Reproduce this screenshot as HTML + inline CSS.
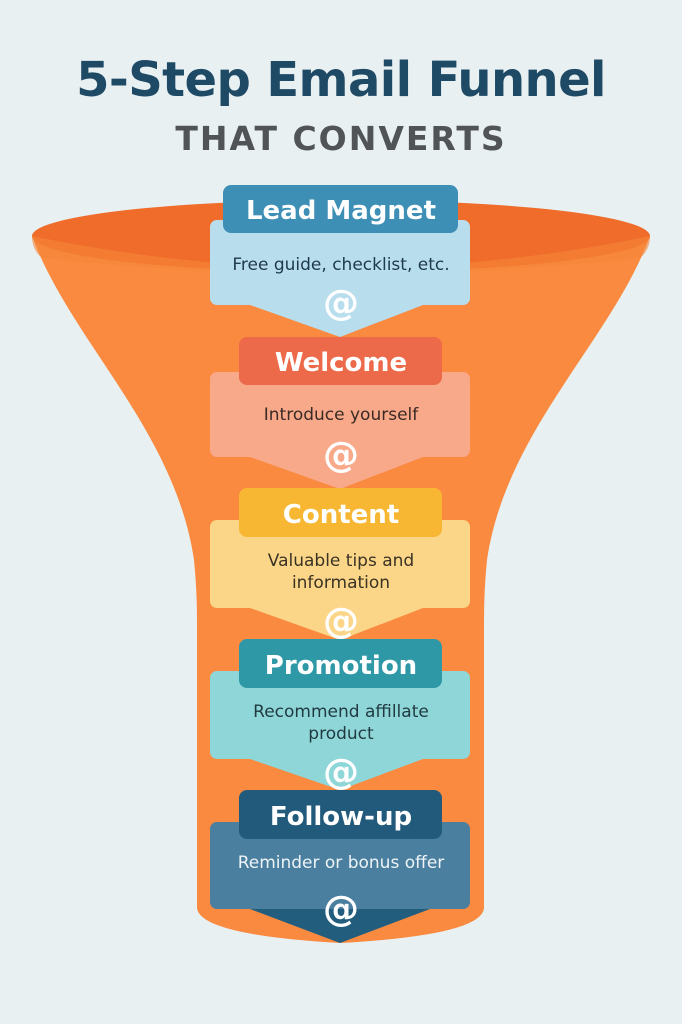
<!DOCTYPE html>
<html><head><meta charset="utf-8"><style>
html,body{margin:0;padding:0;background:#e8f0f2;}
svg{display:block;}
text{font-family:"DejaVu Sans","Liberation Sans",sans-serif;}
.at{font-family:"DejaVu Sans",sans-serif;font-weight:bold;}
</style></head><body>
<svg width="682" height="1024" viewBox="0 0 682 1024" xmlns="http://www.w3.org/2000/svg">
<rect width="682" height="1024" fill="#e8f0f2"/>
<text x="341" y="96" text-anchor="middle" font-size="48" font-weight="bold" fill="#1f4a66" letter-spacing="-0.6">5-Step Email Funnel</text>
<text x="341" y="150" text-anchor="middle" font-size="33" font-weight="bold" fill="#505457" letter-spacing="2">THAT CONVERTS</text>
<!-- funnel -->
<path d="M32,236 C 70,340 175,430 194,560 Q197,590 197,620 L197,908 Q200,935 341,943 Q482,935 484,908 L484,620 Q484,590 487,560 C 506,430 612,340 650,236 Z" fill="#f98a40"/>
<ellipse cx="341" cy="236" rx="309" ry="36" fill="#ef6c2b"/>
<path d="M32,236 Q341,300 650,236 Q650,250 640,258 Q341,290 42,258 Q32,250 32,236Z" fill="#f58537" opacity="0.6"/>

<!-- step 1 -->
<g>
<path d="M210,227 a7,7 0 0 1 7,-7 h246 a7,7 0 0 1 7,7 v71 a7,7 0 0 1 -7,7 h-40 L340,337 L250,305 h-33 a7,7 0 0 1 -7,-7Z" fill="#b8dded"/>
<rect x="223" y="185" width="235" height="48" rx="8" fill="#3d8fb6"/>
<text x="341" y="219" text-anchor="middle" font-size="26" font-weight="bold" fill="#fff">Lead Magnet</text>
<text x="341" y="270" text-anchor="middle" font-size="17" fill="#1f3a4a">Free guide, checklist, etc.</text>
<text class="at" x="341" y="315" text-anchor="middle" font-size="36" fill="#fff">@</text>
</g>
<!-- step 2 -->
<g>
<path d="M210,379 a7,7 0 0 1 7,-7 h246 a7,7 0 0 1 7,7 v71 a7,7 0 0 1 -7,7 h-40 L340,489 L250,457 h-33 a7,7 0 0 1 -7,-7Z" fill="#f8a98a"/>
<rect x="239" y="337" width="203" height="48" rx="8" fill="#ec6949"/>
<text x="341" y="371" text-anchor="middle" font-size="26" font-weight="bold" fill="#fff">Welcome</text>
<text x="341" y="420" text-anchor="middle" font-size="17" fill="#3a2a24">Introduce yourself</text>
<text class="at" x="341" y="467" text-anchor="middle" font-size="36" fill="#fff">@</text>
</g>
<!-- step 3 -->
<g>
<path d="M210,527 a7,7 0 0 1 7,-7 h246 a7,7 0 0 1 7,7 v74 a7,7 0 0 1 -7,7 h-40 L340,640 L250,608 h-33 a7,7 0 0 1 -7,-7Z" fill="#fbd688"/>
<rect x="239" y="488" width="203" height="49" rx="8" fill="#f8b732"/>
<text x="341" y="523" text-anchor="middle" font-size="26" font-weight="bold" fill="#fff">Content</text>
<text x="341" y="566" text-anchor="middle" font-size="17" fill="#3a3224">Valuable tips and</text>
<text x="341" y="588" text-anchor="middle" font-size="17" fill="#3a3224">information</text>
<text class="at" x="341" y="633" text-anchor="middle" font-size="36" fill="#fff">@</text>
</g>
<!-- step 4 -->
<g>
<path d="M210,678 a7,7 0 0 1 7,-7 h246 a7,7 0 0 1 7,7 v74 a7,7 0 0 1 -7,7 h-40 L340,790 L250,759 h-33 a7,7 0 0 1 -7,-7Z" fill="#8fd6d9"/>
<rect x="239" y="639" width="203" height="49" rx="8" fill="#2e98a6"/>
<text x="341" y="674" text-anchor="middle" font-size="26" font-weight="bold" fill="#fff">Promotion</text>
<text x="341" y="717" text-anchor="middle" font-size="17" fill="#1f3a40">Recommend affillate</text>
<text x="341" y="739" text-anchor="middle" font-size="17" fill="#1f3a40">product</text>
<text class="at" x="341" y="784" text-anchor="middle" font-size="36" fill="#fff">@</text>
</g>
<!-- step 5 -->
<g>
<path d="M250,909 L340,943 L430,909Z" fill="#235d7e"/>
<path d="M210,829 a7,7 0 0 1 7,-7 h246 a7,7 0 0 1 7,7 v73 a7,7 0 0 1 -7,7 h-246 a7,7 0 0 1 -7,-7Z" fill="#4a7f9f"/>
<rect x="239" y="790" width="203" height="49" rx="8" fill="#215a7b"/>
<text x="341" y="825" text-anchor="middle" font-size="26" font-weight="bold" fill="#fff">Follow-up</text>
<text x="341" y="868" text-anchor="middle" font-size="17" fill="#eef4f7">Reminder or bonus offer</text>
<text class="at" x="341" y="921" text-anchor="middle" font-size="36" fill="#fff">@</text>
</g>
</svg>
</body></html>
